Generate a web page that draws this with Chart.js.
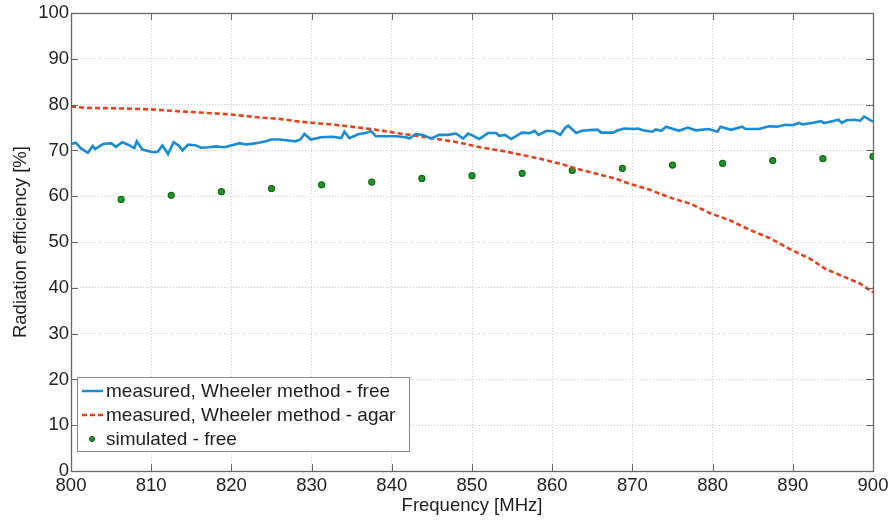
<!DOCTYPE html>
<html>
<head>
<meta charset="utf-8">
<script src="https://cdn.jsdelivr.net/npm/chart.js@4.4.1/dist/chart.umd.min.js"></script>
<style>
  html, body { margin: 0; padding: 0; background: #ffffff; }
  #wrap { width: 893px; height: 523px; }
</style>
</head>
<body>
<div id="wrap"><canvas id="c" width="893" height="523"></canvas></div>
<script>
// ---- data ----
const xTicks = [800, 810, 820, 830, 840, 850, 860, 870, 880, 890, 900];
const yTicks = [0, 10, 20, 30, 40, 50, 60, 70, 80, 90, 100];

const seriesLabels = [
  'measured, Wheeler method - free',
  'measured, Wheeler method - agar',
  'simulated - free'
];

const freeFreq = [800.0,800.6,801.2,802.1,802.7,803.0,804.0,805.0,805.6,806.4,807.3,807.9,808.2,808.9,810.2,810.8,811.4,812.1,812.8,813.5,813.9,814.6,815.6,816.2,817.2,818.1,819.1,820.2,821.0,821.8,822.7,823.4,824.3,825.0,826.0,828.0,828.6,829.1,829.9,831.2,832.6,833.7,834.1,834.7,835.9,836.8,837.4,838.0,839.3,840.5,841.8,842.2,843.0,843.9,844.9,845.9,847.0,848.0,848.9,849.5,849.9,850.9,852.0,853.0,853.4,854.1,854.9,856.2,857.2,857.8,858.3,859.3,860.2,861.0,861.6,862.0,863.0,863.7,865.1,865.7,866.1,867.6,868.2,869.0,870.1,870.7,871.3,872.5,872.9,873.6,874.2,875.8,876.9,877.9,879.5,880.6,881.0,882.3,883.7,884.1,885.8,887.0,888.0,889.1,889.9,890.8,891.2,892.4,893.5,893.9,894.9,895.7,896.1,896.7,897.7,898.4,898.9,899.4,900.0];
const freeEff = [71.4,71.7,70.5,69.5,71.0,70.3,71.4,71.6,70.8,71.8,71.1,70.5,72.0,70.2,69.6,69.7,71.1,69.2,71.8,71.0,70.0,71.3,71.1,70.6,70.7,70.9,70.7,71.2,71.6,71.3,71.5,71.7,72.0,72.4,72.4,72.0,72.4,73.6,72.4,72.9,73.0,72.7,74.1,72.7,73.6,73.8,74.3,73.1,73.1,73.1,72.9,72.6,73.6,73.4,72.6,73.4,73.4,73.7,72.6,73.7,73.4,72.5,73.8,73.8,73.2,73.4,72.5,73.9,73.8,74.3,73.4,74.3,74.2,73.4,74.9,75.4,73.8,74.3,74.5,74.5,73.9,73.9,74.4,74.8,74.7,74.8,74.4,74.1,74.6,74.3,75.2,74.3,75.0,74.4,74.7,74.1,75.2,74.5,75.2,74.7,74.7,75.3,75.2,75.6,75.5,76.0,75.7,76.0,76.4,76.0,76.4,76.7,76.0,76.6,76.7,76.5,77.4,76.9,76.3];

const agarFreq = [800.0,801.9,805.6,809.8,813.9,816.0,819.7,823.5,826.0,828.5,831.0,833.5,835.9,838.5,841.0,843.5,846.0,848.5,851.0,853.5,856.0,858.5,861.0,863.5,866.0,868.0,869.7,872.2,874.7,877.2,879.7,882.2,884.7,887.2,889.7,892.1,894.2,896.3,898.4,900.0];
const agarEff = [79.6,79.3,79.2,79.0,78.5,78.3,77.9,77.2,76.9,76.3,75.9,75.5,75.0,74.4,73.7,73.1,72.4,71.7,70.7,70.0,69.1,68.2,67.1,65.8,64.7,63.8,62.7,61.4,59.7,58.4,56.3,54.7,52.6,50.8,48.4,46.4,44.0,42.5,40.9,39.0];

const simFreq = [806.25,812.5,818.75,825,831.25,837.5,843.75,850,856.25,862.5,868.75,875,881.25,887.5,893.75,900];
const simEff = [59.3,60.2,61.0,61.7,62.5,63.1,63.9,64.5,65.0,65.6,66.1,66.8,67.2,67.8,68.2,68.7];

// ---- styling ----
const FONT = "'Liberation Sans', Arial, sans-serif";
const BLUE = '#1a8bd6';
const RED = '#e8401c';
const GREEN_FILL = '#23952a';
const GREEN_EDGE = '#0d6b12';
const AXIS = '#666666';
const TEXT = '#1e1e1e';

const pts = (xs, ys) => xs.map((x, i) => ({ x: x, y: ys[i] }));

// Frame + inward ticks (MATLAB-style box)
const framePlugin = {
  id: 'frame',
  afterDatasetsDraw(chart) {
    const { ctx, chartArea: a, scales } = chart;
    ctx.save();
    ctx.strokeStyle = AXIS;
    ctx.lineWidth = 1;
    ctx.beginPath();
    const tl = 7;
    xTicks.forEach(v => {
      const px = Math.round(scales.x.getPixelForValue(v)) + 0.5;
      ctx.moveTo(px, a.bottom); ctx.lineTo(px, a.bottom - tl);
      ctx.moveTo(px, a.top); ctx.lineTo(px, a.top + tl);
    });
    yTicks.forEach(v => {
      const py = Math.round(scales.y.getPixelForValue(v)) + 0.5;
      ctx.moveTo(a.left, py); ctx.lineTo(a.left + tl, py);
      ctx.moveTo(a.right, py); ctx.lineTo(a.right - tl, py);
    });
    ctx.stroke();
    ctx.lineWidth = 1.3;
    ctx.strokeRect(Math.round(a.left) + 0.5, Math.round(a.top) + 0.5,
                   Math.round(a.right - a.left), Math.round(a.bottom - a.top));
    ctx.restore();
  }
};

// Legend box inside the axes, lower-left
const legendPlugin = {
  id: 'boxLegend',
  afterDraw(chart) {
    const { ctx, chartArea: a } = chart;
    const x0 = a.left + 6, y0 = a.bottom - 94, w = 332, h = 74;
    ctx.save();
    ctx.fillStyle = '#ffffff';
    ctx.fillRect(x0, y0, w, h);
    ctx.strokeStyle = '#8a8a8a';
    ctx.lineWidth = 1;
    ctx.strokeRect(Math.round(x0) + 0.5, Math.round(y0) + 0.5, w, h);
    ctx.font = '19px ' + FONT;
    ctx.textBaseline = 'middle';
    const rows = [y0 + 14, y0 + 38, y0 + 62];
    chart.data.datasets.forEach((ds, i) => {
      const y = rows[i];
      if (i === 2) {
        ctx.beginPath();
        ctx.arc(x0 + 15, y, 2.6, 0, Math.PI * 2);
        ctx.fillStyle = GREEN_FILL; ctx.fill();
        ctx.strokeStyle = GREEN_EDGE; ctx.lineWidth = 1; ctx.stroke();
      } else {
        ctx.beginPath();
        ctx.strokeStyle = ds.borderColor;
        ctx.lineWidth = 2.5;
        ctx.setLineDash(ds.borderDash || []);
        ctx.moveTo(x0 + 5, y); ctx.lineTo(x0 + 26, y);
        ctx.stroke();
        ctx.setLineDash([]);
      }
      ctx.fillStyle = TEXT;
      ctx.fillText(ds.label, x0 + 29, y + 1);
    });
    ctx.restore();
  }
};

new Chart(document.getElementById('c'), {
  type: 'scatter',
  data: {
    datasets: [
      { label: seriesLabels[0], data: pts(freeFreq, freeEff), showLine: true,
        borderColor: BLUE, backgroundColor: BLUE, borderWidth: 2.6, pointRadius: 0, tension: 0 },
      { label: seriesLabels[1], data: pts(agarFreq, agarEff), showLine: true,
        borderColor: RED, backgroundColor: RED, borderWidth: 2.6, borderDash: [5, 3], pointRadius: 0, tension: 0 },
      { label: seriesLabels[2], data: pts(simFreq, simEff), showLine: false,
        pointRadius: 3, pointBackgroundColor: GREEN_FILL, pointBorderColor: GREEN_EDGE, pointBorderWidth: 1.2,
        borderColor: GREEN_EDGE, backgroundColor: GREEN_FILL }
    ]
  },
  options: {
    responsive: false,
    animation: false,
    devicePixelRatio: 1,
    layout: { padding: { left: 0, right: 20, top: 12, bottom: 0 } },
    plugins: { legend: { display: false }, tooltip: { enabled: false } },
    scales: {
      x: {
        type: 'linear', min: 800, max: 900,
        afterFit: s => { s.height = 52; },
        afterBuildTicks: s => { s.ticks = xTicks.map(v => ({ value: v })); },
        ticks: { color: TEXT, font: { family: FONT, size: 18.5 }, padding: 4, maxRotation: 0 },
        grid: { color: '#cccccc', lineWidth: 1, drawTicks: false },
        border: { display: false, dash: [1, 2] },
        title: { display: true, text: 'Frequency [MHz]', color: TEXT, font: { family: FONT, size: 18.5 }, padding: { top: 0, bottom: 6 } }
      },
      y: {
        type: 'linear', min: 0, max: 100,
        afterFit: s => { s.width = 71; },
        afterBuildTicks: s => { s.ticks = yTicks.map(v => ({ value: v })); },
        ticks: { color: TEXT, font: { family: FONT, size: 18.5 }, padding: 2 },
        grid: { color: '#cccccc', lineWidth: 1, drawTicks: false },
        border: { display: false, dash: [1, 2] },
        title: { display: true, text: 'Radiation efficiency [%]', color: TEXT, font: { family: FONT, size: 18.5 }, padding: { top: 10, bottom: 0 } }
      }
    }
  },
  plugins: [framePlugin, legendPlugin]
});
</script>
</body>
</html>
